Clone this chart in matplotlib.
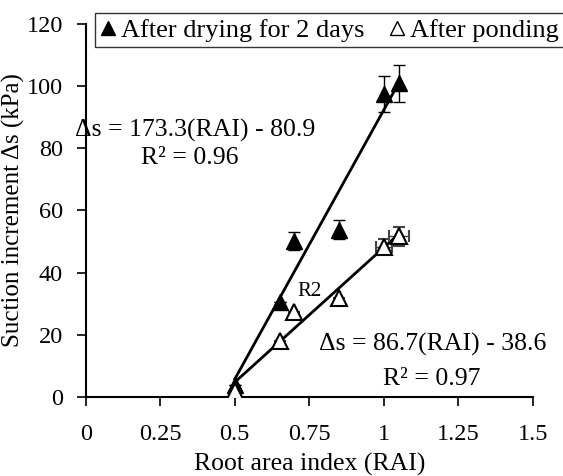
import matplotlib
matplotlib.use("Agg")
import matplotlib.pyplot as plt
from matplotlib.lines import Line2D
import numpy as np

plt.rcParams['font.family'] = ['Liberation Serif', 'DejaVu Serif']

# Root area index and suction increment for the two conditions
rai_dry = [0.5, 0.65, 0.70, 0.85, 1.00, 1.05]
ds_dry = [4.0, 30.7, 50.2, 53.8, 97.6, 100.9]
ds_dry_err = [0.0, 0.0, 3.0, 3.0, 5.8, 5.9]

rai_pond = [0.5, 0.65, 0.70, 0.85, 1.00, 1.05]
ds_pond = [2.0, 18.0, 27.4, 31.8, 48.4, 51.7]
ds_pond_err = [0.0, 0.0, 0.0, 0.0, 2.5, 3.0]
rai_pond_err = [0.0, 0.0, 0.0, 0.0, 0.027, 0.034]

# Linear fits: slope, intercept
fit_dry = (173.3, -80.9)
fit_pond = (86.7, -38.6)
fit_range = [0.5, 1.05]

x_ticks = [0, 0.25, 0.5, 0.75, 1, 1.25, 1.5]
x_tick_labels = ['0', '0.25', '0.5', '0.75', '1', '1.25', '1.5']
y_ticks = [0, 20, 40, 60, 80, 100, 120]

fs = 18.5
tick_fs = 17.5

fig = plt.figure(figsize=(5.63, 4.76), dpi=100)
ax = fig.add_axes([0.1522, 0.166, 0.7945, 0.7836])

xr = np.array(fit_range)
ax.plot(xr, fit_dry[0] * xr + fit_dry[1], color='black', lw=2, zorder=2)
ax.plot(xr, fit_pond[0] * xr + fit_pond[1], color='black', lw=2, zorder=2)

ax.errorbar(rai_dry, ds_dry, yerr=ds_dry_err, fmt='^', color='black',
            mfc='black', mec='black', ms=11, ecolor='black', elinewidth=1,
            capsize=4, capthick=1, zorder=3)
ax.errorbar(rai_pond, ds_pond, yerr=ds_pond_err, xerr=rai_pond_err, fmt='^',
            color='black', mfc='white', mec='black', mew=1.5, ms=11,
            ecolor='#444444', elinewidth=1, capsize=4, capthick=1, zorder=3)

ax.text(0.367, 85.9, 'Δs = 173.3(RAI) - 80.9', fontsize=fs, ha='center', va='center')
ax.text(0.35, 76.9, 'R² = 0.96', fontsize=fs, ha='center', va='center')
ax.text(1.165, 17.0, 'Δs = 86.7(RAI) - 38.6', fontsize=fs, ha='center', va='center')
ax.text(1.16, 5.9, 'R² = 0.97', fontsize=fs, ha='center', va='center')
ax.text(0.752, 33.8, 'R2', fontsize=15, ha='center', va='center')

ax.set_xlim(0, 1.5)
ax.set_ylim(0, 120)
ax.set_xticks(x_ticks)
ax.set_xticklabels(x_tick_labels)
ax.set_yticks(y_ticks)
ax.tick_params(direction='out', length=6.5, width=1.2, labelsize=tick_fs)
ax.tick_params(axis='x', pad=13)
ax.tick_params(axis='y', pad=10)
for s in ['top', 'right']:
    ax.spines[s].set_visible(False)
for s in ['left', 'bottom']:
    ax.spines[s].set_linewidth(1.5)

ax.set_xlabel('Root area index (RAI)', fontsize=fs, labelpad=6)
ax.set_ylabel('Suction increment Δs (kPa)', fontsize=18)
ax.yaxis.set_label_coords(-0.135, 0.5)

handles = [
    Line2D([], [], ls='none', marker='^', ms=10, mfc='black', mec='black'),
    Line2D([], [], ls='none', marker='^', ms=10, mfc='white', mec='black', mew=1),
]
leg = fig.legend(handles, ['After drying for 2 days', 'After ponding'],
                 loc='upper left', bbox_to_anchor=(95 / 563, 1 - 13 / 476),
                 ncol=2, fontsize=19, frameon=True, fancybox=False,
                 handlelength=0.6, handletextpad=0.2, columnspacing=0.9,
                 borderpad=0.2, borderaxespad=0)
leg.get_frame().set_edgecolor('black')
leg.get_frame().set_linewidth(1)

fig.savefig('out.png', dpi=100)
